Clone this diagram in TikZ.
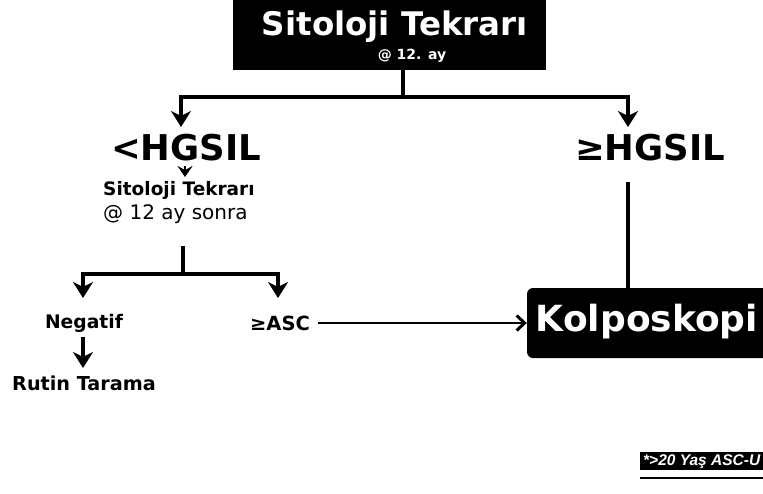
\documentclass[tikz,border=0pt]{standalone}
\usepackage{fontspec}
\setmainfont{DejaVu Sans}
\newfontfamily\notefont{Liberation Sans}
\usetikzlibrary{arrows.meta}

\begin{document}
\begin{tikzpicture}[x=1pt,y=-1pt,
  blackbox/.style={fill=black, inner sep=0pt},
  whitetext/.style={text=white, font=\bfseries, inner sep=0pt},
  label/.style={font=\bfseries, inner sep=0pt},
  conn/.style={line width=3.4pt, draw=black},
  arr/.style={conn, -{Stealth[length=16pt,width=20pt,inset=5pt]}},
  barb/.style={line width=2.6pt, -{Straight Barb[length=8pt,width=15pt,line width=3pt]}}
]
\useasboundingbox (0,0) rectangle (763,493);

% top box
\node[blackbox, minimum width=313pt, minimum height=73pt] (top) at (389.5,33.5) {};
\node[whitetext, font=\bfseries\fontsize{32.5}{32.5}\selectfont] (toptitle) at (395,27) {Sitoloji Tekrarı};
\node[whitetext, font=\bfseries\fontsize{14}{14}\selectfont] (topsub) at (412,56) {@ 12. ay};

% first split
\coordinate (split1) at (403,97);
\coordinate (lowend) at (181,127);
\coordinate (highend) at (628,127);
\draw[conn] (top.south -| split1) -- (split1);
\draw[arr] (split1) -| (lowend);
\draw[arr] (split1) -| (highend);

\node[label, font=\bfseries\fontsize{35.5}{35.5}\selectfont] (low) at (186,148) {<HGSIL};
\node[label, font=\bfseries\fontsize{35.5}{35.5}\selectfont] (high) at (650,148) {≥HGSIL};

% repeat cytology
\node[label, font=\bfseries\fontsize{18.5}{18.5}\selectfont, anchor=west] (rep) at (103,190) {Sitoloji Tekrarı};
\node[font=\fontsize{20}{20}\selectfont, inner sep=0pt, anchor=west] (repsub) at (103,214) {@ 12 ay sonra};
\coordinate (repin) at (185,177);
\draw[line width=2.6pt, -{Stealth[length=11pt,width=15pt,inset=4pt]}] (185,166) -- (repin);

% second split
\coordinate (split2) at (183,274);
\coordinate (negend) at (83,298);
\coordinate (ascend) at (278,298);
\draw[conn] (183,246) -- (split2);
\draw[arr] (split2) -| (negend);
\draw[arr] (split2) -| (ascend);

\node[label, font=\bfseries\fontsize{18.7}{18.7}\selectfont] (neg) at (84,323) {Negatif};
\node[label, font=\bfseries\fontsize{19.5}{19.5}\selectfont] (asc) at (280,323) {≥ASC};
\node[label, font=\bfseries\fontsize{19.2}{19.2}\selectfont] (rutin) at (84,383) {Rutin Tarama};
\coordinate (rutinin) at (83,368);
\draw[arr] (83,337) -- (rutinin);

% colposcopy
\node[blackbox, rounded corners=6pt, minimum width=250pt, minimum height=70pt] (kolbox) at (652,323) {};
\node[whitetext, font=\bfseries\fontsize{36}{36}\selectfont] (kol) at (647,322) {Kolposkopi};
\draw[conn] (628,182) -- (kolbox.north -| 628,0);
\draw[barb] (asc.east) ++(8,0) coordinate (ascout) (ascout) -- (kolbox.west |- ascout);

% footnote tag
\node[blackbox, minimum width=125pt, minimum height=18pt, anchor=north west] (tag) at (640,452) {};
\node[text=white, inner sep=0pt, anchor=west, font=\notefont\bfseries\itshape\fontsize{15.5}{15.5}\selectfont] (tagtext) at (643,461.5) {*>20 Yaş ASC-U};
\draw[line width=1.2pt] (640,478) -- (763,478);
\end{tikzpicture}
\end{document}
